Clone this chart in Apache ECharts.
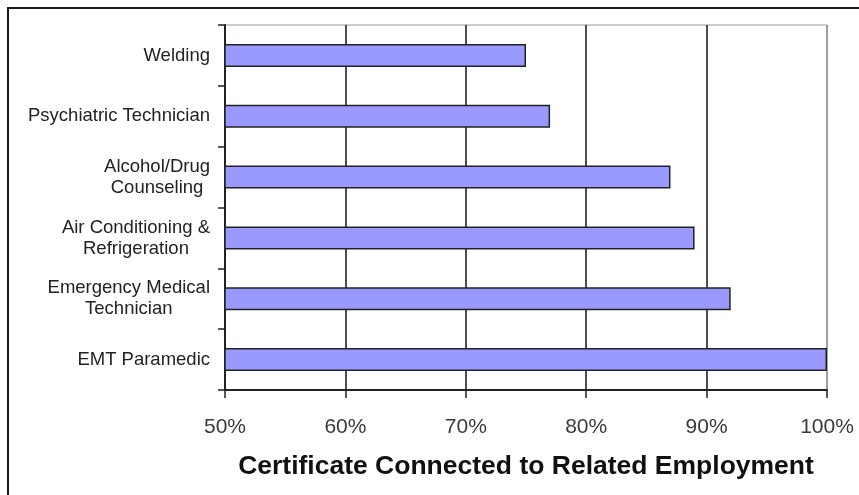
<!DOCTYPE html>
<html>
<head>
<meta charset="utf-8">
<script src="https://cdn.jsdelivr.net/npm/echarts@6/dist/echarts.min.js"></script>
<style>
html,body{margin:0;padding:0;background:#fff;}
#chart{width:859px;height:495px;}
</style>
</head>
<body>
<div id="chart"></div>
<script>
// Data
var categories = [
  'Welding',
  'Psychiatric Technician',
  'Alcohol/Drug\nCounseling',
  'Air Conditioning &\nRefrigeration',
  'Emergency Medical\nTechnician',
  'EMT Paramedic'
];
var values = [75, 77, 87, 89, 92, 100];
var xTicks = [50, 60, 70, 80, 90, 100];
var axisTitle = 'Certificate Connected to Related Employment';

var chart = echarts.init(document.getElementById('chart'), null, {renderer: 'canvas'});
var option = {
  animation: false,
  backgroundColor: '#ffffff',
  graphic: [{
    type: 'rect',
    shape: {x: 8, y: 8, width: 1000, height: 1000},
    style: {fill: 'none', stroke: '#1a1a1a', lineWidth: 2},
    silent: true,
    z: 100
  }],
  grid: {
    left: 225, right: 32, top: 25, bottom: 105,
    show: true, borderColor: '#999999', borderWidth: 1, backgroundColor: '#ffffff'
  },
  xAxis: {
    type: 'value',
    min: xTicks[0],
    max: xTicks[xTicks.length - 1],
    interval: 10,
    name: axisTitle,
    nameLocation: 'middle',
    nameGap: 63,
    nameTextStyle: {fontFamily: 'Liberation Sans, Arial, sans-serif', fontWeight: 'bold', fontSize: 26.5, color: '#111'},
    axisLine: {show: true, lineStyle: {color: '#222', width: 2}},
    axisTick: {show: true, length: 8, inside: false, lineStyle: {color: '#222', width: 1.5}},
    axisLabel: {
      margin: 27,
      fontFamily: 'Liberation Sans Narrow, Arial Narrow, Liberation Sans, sans-serif',
      fontSize: 21,
      color: '#3a3a3a',
      formatter: function (v) { return v + '%'; }
    },
    splitLine: {show: true, lineStyle: {color: ['#999999', '#3a3a3a', '#3a3a3a', '#3a3a3a', '#3a3a3a', '#999999'], width: 1.8}}
  },
  yAxis: {
    type: 'category',
    data: categories,
    inverse: true,
    axisLine: {show: true, lineStyle: {color: '#222', width: 2}},
    axisTick: {show: true, length: 7, lineStyle: {color: '#222', width: 1.5}},
    axisLabel: {
      margin: 15,
      fontFamily: 'Liberation Sans, Arial, sans-serif',
      fontSize: 18.5,
      color: '#222',
      lineHeight: 21,
      formatter: function (v) {
        return v.split('\n').map(function (s) { return '{c|' + s + '}'; }).join('\n');
      },
      rich: {c: {align: 'center', fontSize: 18.5, lineHeight: 21, color: '#222', fontFamily: 'Liberation Sans, Arial, sans-serif'}}
    },
    splitLine: {show: false}
  },
  series: [{
    type: 'bar',
    data: values,
    barWidth: 23,
    itemStyle: {color: '#9999ff', borderColor: '#222', borderWidth: 1.5},
    z: 3
  }]
};
chart.setOption(option);
</script>
</body>
</html>
